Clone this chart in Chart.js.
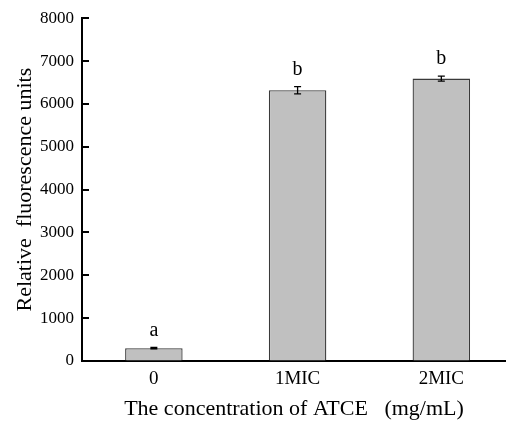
<!DOCTYPE html>
<html>
<head>
<meta charset="utf-8">
<script src="https://cdn.jsdelivr.net/npm/chart.js@4/dist/chart.umd.min.js"></script>
<style>
  html, body { margin: 0; padding: 0; background: #fff; overflow: hidden; }
  #wrap { width: 506px; height: 425px; }
</style>
</head>
<body>
<div id="wrap"><canvas id="results-chart" width="506" height="425"></canvas></div>
<script>
'use strict';

let categories = ['0', '1MIC', '2MIC'];
let fluorescence = [300, 6320, 6590];
let errors = [15, 85, 60];
let letters = ['a', 'b', 'b'];
let yTicks = [0, 1000, 2000, 3000, 4000, 5000, 6000, 7000, 8000];

let serif = '"Liberation Serif", "Times New Roman", serif';

// error bars + significance letters
let errorBarPlugin = {
  id: 'errorBars',
  afterDatasetsDraw: function (chart) {
    let ctx = chart.ctx;
    let yScale = chart.scales.y;
    let meta = chart.getDatasetMeta(0);
    ctx.save();
    ctx.strokeStyle = '#000';
    ctx.lineWidth = 1.3;
    for (let i = 0; i < meta.data.length; i++) {
      let x = meta.data[i].x;
      let top = yScale.getPixelForValue(fluorescence[i] + errors[i]);
      let bottom = yScale.getPixelForValue(fluorescence[i] - errors[i]);
      ctx.beginPath();
      ctx.moveTo(x, top);
      ctx.lineTo(x, bottom);
      ctx.moveTo(x - 3.5, top);
      ctx.lineTo(x + 3.5, top);
      ctx.moveTo(x - 3.5, bottom);
      ctx.lineTo(x + 3.5, bottom);
      ctx.stroke();

      ctx.fillStyle = '#000';
      ctx.font = '20px ' + serif;
      ctx.textAlign = 'center';
      ctx.textBaseline = 'middle';
      ctx.fillText(letters[i], x, top - 17);
    }
    ctx.restore();
  }
};

// inward tick marks on the y axis
let innerTicksPlugin = {
  id: 'innerTicks',
  afterDraw: function (chart) {
    let ctx = chart.ctx;
    let yScale = chart.scales.y;
    let left = chart.chartArea.left;
    ctx.save();
    ctx.strokeStyle = '#000';
    ctx.lineWidth = 2;
    for (let i = 0; i < yTicks.length; i++) {
      let y = Math.round(yScale.getPixelForValue(yTicks[i]));
      ctx.beginPath();
      ctx.moveTo(left, y);
      ctx.lineTo(left + 7, y);
      ctx.stroke();
    }
    ctx.restore();
  }
};

let barData = [];
for (let i = 0; i < categories.length; i++) {
  barData.push({ x: i, y: fluorescence[i] });
}

const ctx = document.getElementById('results-chart');
const myChart = new Chart(ctx, {
  type: 'bar',
  data: {
    datasets: [{
      label: 'Relative fluorescence units',
      data: barData,
      backgroundColor: '#c0c0c0',
      borderColor: '#3a3a3a',
      borderWidth: 1.3,
      barPercentage: 0.5,
      categoryPercentage: 0.8
    }]
  },
  options: {
    responsive: false,
    animation: false,
    layout: { padding: { top: 14, right: 0, left: 0, bottom: 0 } },
    plugins: {
      legend: { display: false },
      tooltip: { enabled: false }
    },
    scales: {
      x: {
        type: 'linear',
        offset: false,
        min: -0.5,
        max: 2.45,
        afterBuildTicks: function (scale) {
          scale.ticks = categories.map(function (c, i) { return { value: i }; });
        },
        afterFit: function (scale) { scale.height = 64; },
        grid: { drawOnChartArea: false, drawTicks: false },
        border: { display: true, color: '#000', width: 2 },
        ticks: {
          color: '#000',
          padding: 7,
          font: { family: serif, size: 19 },
          callback: function (value) { return categories[value]; }
        },
        title: {
          display: true,
          text: 'The concentration of ATCE   (mg/mL)',
          color: '#000',
          font: { family: serif, size: 22 },
          padding: { top: 4, bottom: 3 }
        }
      },
      y: {
        min: 0,
        max: 8000,
        afterBuildTicks: function (scale) {
          scale.ticks = yTicks.map(function (v) { return { value: v }; });
        },
        afterFit: function (scale) { scale.width = 82; },
        grid: { drawOnChartArea: false, drawTicks: false },
        border: { display: true, color: '#000', width: 2 },
        ticks: {
          color: '#000',
          padding: 8,
          font: { family: serif, size: 17 },
          callback: function (value) { return String(value); }
        },
        title: {
          display: true,
          text: 'Relative  fluorescence units',
          color: '#000',
          font: { family: serif, size: 22 },
          padding: { top: 12, bottom: 4 }
        }
      }
    }
  },
  plugins: [errorBarPlugin, innerTicksPlugin]
});
</script>
</body>
</html>
